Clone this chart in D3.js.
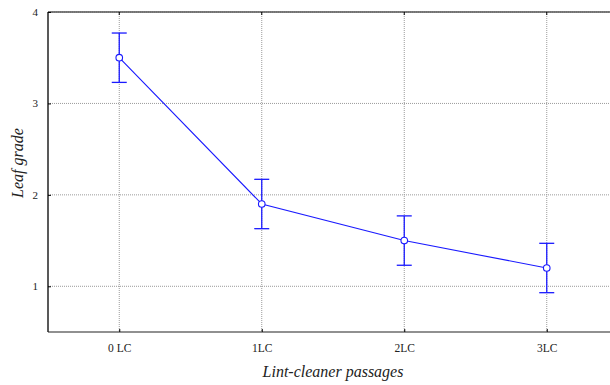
<!DOCTYPE html>
<html>
<head>
<meta charset="utf-8">
<script src="https://cdn.jsdelivr.net/npm/d3@7"></script>
<style>
  html, body { margin: 0; padding: 0; background: #fff; }
  svg { display: block; }
  text { font-family: "Liberation Serif", "Times New Roman", serif; }
</style>
</head>
<body>
<svg id="chart" width="610" height="385"></svg>
<script>
// Leaf grade by number of lint-cleaner passages (mean ± error)
const categories = ["0 LC", "1LC", "2LC", "3LC"];
const means = [3.5, 1.9, 1.5, 1.2];
const errors = [0.27, 0.27, 0.27, 0.27];
const yTicks = [1, 2, 3, 4];

const svg = d3.select("#chart");
const margin = { left: 48, top: 12, bottom: 332 };
const plotRight = 618;

const x = d3.scalePoint()
  .domain(categories)
  .range([margin.left, plotRight])
  .padding(0.5);

const y = d3.scaleLinear()
  .domain([0.5, 4])
  .range([margin.bottom, margin.top]);

// Dotted grid lines
const grid = svg.append("g");
grid.selectAll("line.h")
  .data(yTicks)
  .join("line")
  .attr("x1", margin.left).attr("x2", plotRight)
  .attr("y1", d => y(d)).attr("y2", d => y(d))
  .attr("stroke", "#9a9a9a").attr("stroke-width", 1)
  .attr("stroke-dasharray", "1,1");
grid.selectAll("line.v")
  .data(categories)
  .join("line")
  .attr("x1", d => x(d)).attr("x2", d => x(d))
  .attr("y1", margin.top).attr("y2", margin.bottom)
  .attr("stroke", "#9a9a9a").attr("stroke-width", 1)
  .attr("stroke-dasharray", "1,1");

// Frame
svg.append("line")
  .attr("x1", margin.left).attr("x2", plotRight)
  .attr("y1", margin.top).attr("y2", margin.top)
  .attr("stroke", "#555").attr("stroke-width", 1.5);
svg.append("line")
  .attr("x1", margin.left).attr("x2", plotRight)
  .attr("y1", margin.bottom).attr("y2", margin.bottom)
  .attr("stroke", "#222").attr("stroke-width", 1.2);
svg.append("line")
  .attr("x1", margin.left).attr("x2", margin.left)
  .attr("y1", margin.top).attr("y2", margin.bottom)
  .attr("stroke", "#222").attr("stroke-width", 1.5);

// Y axis (ticks pointing inward)
const yAxis = d3.axisLeft(y).tickValues(yTicks).tickSizeInner(-3).tickSizeOuter(0).tickPadding(10)
  .tickFormat(d3.format("d"));
const gy = svg.append("g").attr("transform", `translate(${margin.left},0)`).call(yAxis);
gy.select(".domain").remove();
gy.selectAll(".tick line").attr("stroke", "#000");
gy.selectAll(".tick text")
  .attr("font-family", "Liberation Serif, serif")
  .attr("font-size", 11).attr("fill", "#222");

// X axis (ticks pointing inward)
const xAxis = d3.axisBottom(x).tickSizeInner(-3).tickSizeOuter(0).tickPadding(12);
const gx = svg.append("g").attr("transform", `translate(0,${margin.bottom})`).call(xAxis);
gx.select(".domain").remove();
gx.selectAll(".tick line").attr("stroke", "#000");
gx.selectAll(".tick text")
  .attr("font-family", "Liberation Serif, serif")
  .attr("font-size", 11.5).attr("fill", "#222");

// Top ticks
svg.append("g").selectAll("line")
  .data(categories)
  .join("line")
  .attr("x1", d => x(d)).attr("x2", d => x(d))
  .attr("y1", margin.top).attr("y2", margin.top + 3)
  .attr("stroke", "#000");

// Axis titles
svg.append("text")
  .attr("x", (margin.left + plotRight) / 2)
  .attr("y", 377)
  .attr("text-anchor", "middle")
  .attr("font-style", "italic")
  .attr("font-size", 16)
  .attr("fill", "#222")
  .text("Lint-cleaner passages");

svg.append("text")
  .attr("transform", "translate(23,163) rotate(-90)")
  .attr("text-anchor", "middle")
  .attr("font-style", "italic")
  .attr("font-size", 16)
  .attr("fill", "#222")
  .text("Leaf grade");

const blue = "#1a1aff";
const data = categories.map((c, i) => ({ c, m: means[i], e: errors[i] }));

// Error bars
const eb = svg.append("g").attr("stroke", blue).attr("stroke-width", 1.3);
eb.selectAll("line.v").data(data).join("line")
  .attr("x1", d => x(d.c)).attr("x2", d => x(d.c))
  .attr("y1", d => y(d.m + d.e)).attr("y2", d => y(d.m - d.e));
eb.selectAll("line.t").data(data).join("line")
  .attr("x1", d => x(d.c) - 7.5).attr("x2", d => x(d.c) + 7.5)
  .attr("y1", d => y(d.m + d.e)).attr("y2", d => y(d.m + d.e));
eb.selectAll("line.b").data(data).join("line")
  .attr("x1", d => x(d.c) - 7.5).attr("x2", d => x(d.c) + 7.5)
  .attr("y1", d => y(d.m - d.e)).attr("y2", d => y(d.m - d.e));

// Mean line
svg.append("path")
  .datum(data)
  .attr("fill", "none")
  .attr("stroke", blue)
  .attr("stroke-width", 1.1)
  .attr("d", d3.line().x(d => x(d.c)).y(d => y(d.m)));

// Markers
svg.append("g").selectAll("circle").data(data).join("circle")
  .attr("cx", d => x(d.c)).attr("cy", d => y(d.m))
  .attr("r", 3.3)
  .attr("fill", "#fff")
  .attr("stroke", blue)
  .attr("stroke-width", 1.1);
</script>
</body>
</html>
